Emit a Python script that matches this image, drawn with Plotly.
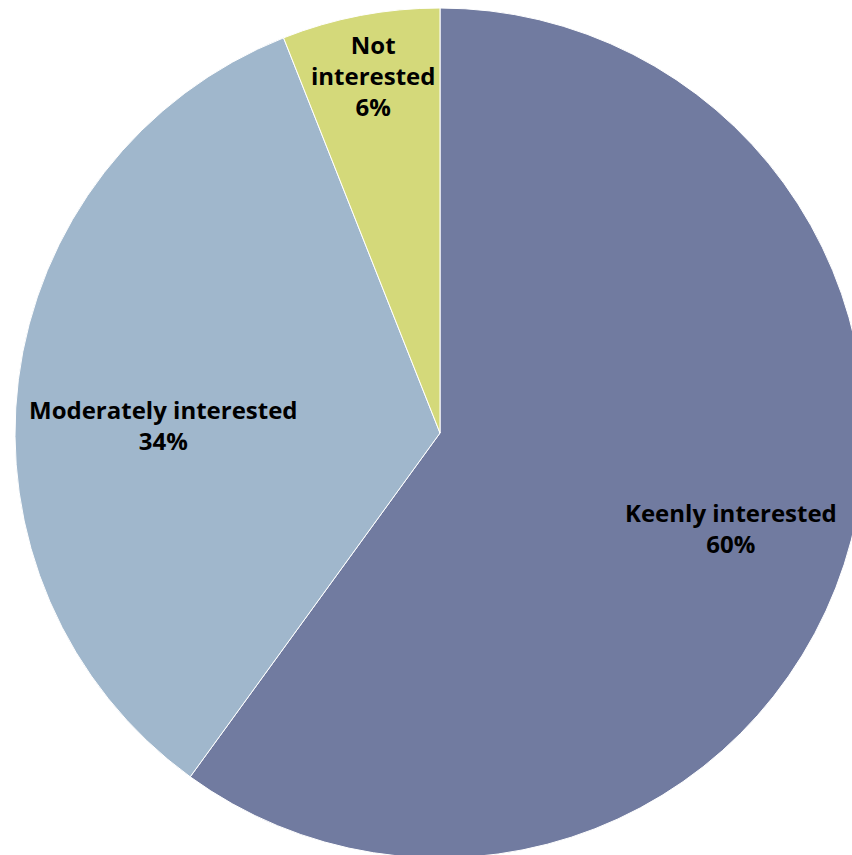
import math
import plotly.graph_objects as go

labels = ["Keenly interested", "Moderately interested", "Not interested"]
display_labels = ["Keenly interested", "Moderately interested", "Not<br>interested"]
values = [60, 34, 6]
colors = ["#717BA0", "#A0B7CC", "#D4D97A"]
# label placement (fraction of radius, angular nudge in degrees)
label_radius = [0.72, 0.65, 0.855]
label_angle_shift = [0, -5.5, 0.2]

W, H = 880, 870
dom_x = [15 / W, 865 / W]
dom_y = [12 / H, 862 / H]

fig = go.Figure(go.Pie(
    labels=labels,
    values=values,
    textinfo="none",
    sort=False,
    direction="clockwise",
    rotation=0,
    marker=dict(colors=colors, line=dict(color="white", width=1)),
    showlegend=False,
    hoverinfo="label+percent",
    domain=dict(x=dom_x, y=dom_y),
))

# label annotations placed from the data (mid-angle of each slice)
total = sum(values)
cx = (dom_x[0] + dom_x[1]) / 2
cy = (dom_y[0] + dom_y[1]) / 2
R_px = min((dom_x[1] - dom_x[0]) * W, (dom_y[1] - dom_y[0]) * H) / 2
cum = 0
for lab, v, fr, sh in zip(display_labels, values, label_radius, label_angle_shift):
    mid = (cum + v / 2) / total * 360 + sh
    cum += v
    th = math.radians(mid)
    x = cx + fr * R_px * math.sin(th) / W
    y = cy + fr * R_px * math.cos(th) / H
    pct = round(v / total * 100)
    fig.add_annotation(
        x=x, y=y, xref="paper", yref="paper",
        text=f"{lab}<br>{pct}%",
        showarrow=False, xanchor="center", yanchor="middle",
        font=dict(family="Open Sans", size=24, color="black", weight="bold"),
        align="center",
    )

fig.update_layout(
    width=W, height=H,
    margin=dict(l=0, r=0, t=0, b=0),
    paper_bgcolor="white",
    plot_bgcolor="white",
)
fig.write_html(
    "out.html",
    config=dict(displayModeBar=False),
    post_script="document.body.style.margin='0';document.body.style.overflow='hidden';document.documentElement.style.overflow='hidden';",
)
